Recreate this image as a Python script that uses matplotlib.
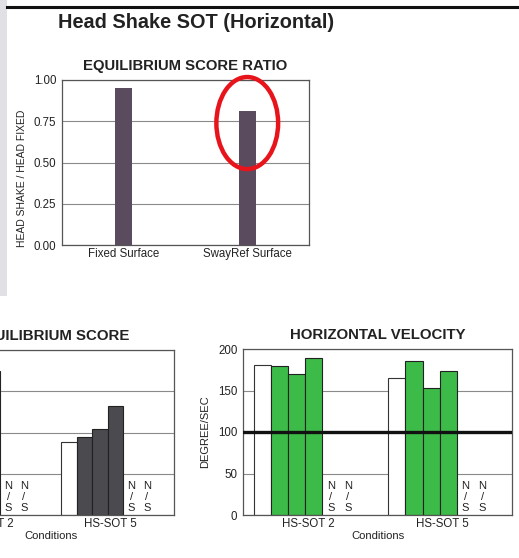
import numpy as np
import matplotlib.pyplot as plt
from matplotlib.patches import Ellipse, Rectangle
from matplotlib.transforms import blended_transform_factory

plt.rcParams['font.family'] = ['Liberation Sans', 'DejaVu Sans']

# --- data ---
ratio_labels = ['Fixed Surface', 'SwayRef Surface']
ratio_values = [0.95, 0.81]
ratio_ticks = [0.0, 0.25, 0.5, 0.75, 1.0]

conditions = ['HS-SOT 2', 'HS-SOT 5']
# white bar = head still baseline, then 3 head shake trials, last 2 slots N/S
eq_baseline = [84, 44]
eq_trials = [[82, 85, 87], [47, 52, 66]]
eq_ticks = [0, 25, 50, 75, 100]

vel_baseline = [181, 165]
vel_trials = [[180, 170, 189], [185, 153, 173]]
vel_ticks = [0, 50, 100, 150, 200]
vel_threshold = 100

W, H = 519, 558
GROUP_X = [0.462, 1.462]
SLOT = 0.127


def px_box(x0, y0, x1, y1):
    """pixel box (top-left origin) -> figure fraction rect"""
    return [x0 / W, 1 - y1 / H, (x1 - x0) / W, (y1 - y0) / H]


def style_axes(ax):
    for s in ax.spines.values():
        s.set_color('#555555')
        s.set_linewidth(0.9)
    ax.tick_params(length=0, pad=4, labelsize=8.3, colors='#222222')
    ax.yaxis.grid(True, color='#8a8a8a', linewidth=0.8)
    ax.set_axisbelow(True)


def group_chart(ax, baseline, trials, color, ticks, ylabel=None):
    style_axes(ax)
    trans = blended_transform_factory(ax.transData, ax.transAxes)
    for g, center in enumerate(GROUP_X):
        offs = (np.arange(6) - 2.5) * SLOT
        ax.bar(center + offs[0], baseline[g], SLOT, color='white',
               edgecolor='#333333', linewidth=0.8, zorder=2)
        ax.bar(center + offs[1:4], trials[g], SLOT, color=color,
               edgecolor='#222222', linewidth=0.8, zorder=2)
        for o in offs[4:]:
            ax.text(center + o, 0.012, 'N\n/\nS', transform=trans,
                    ha='center', va='bottom', fontsize=8, linespacing=1.15,
                    color='#222222', zorder=4)
    ax.set_xlim(0, 2)
    ax.set_ylim(ticks[0], ticks[-1])
    ax.set_yticks(ticks)
    ax.set_xticks([x + 0.022 for x in GROUP_X])
    ax.set_xticklabels(conditions)
    ax.tick_params(axis='x', pad=2)
    ax.set_xlabel('Conditions', fontsize=8.1, labelpad=1, color='#222222')
    if ylabel:
        ax.set_ylabel(ylabel, fontsize=8, labelpad=6, color='#222222')


fig = plt.figure(figsize=(W / 100, H / 100), dpi=100)
fig.patch.set_facecolor('white')

# left gray strip and top rule of the scanned page
fig.add_artist(Rectangle((0, 1 - 296 / H), 7 / W, 296 / H, transform=fig.transFigure,
                         facecolor='#e1e1e5', edgecolor='none'))
fig.add_artist(plt.Line2D([7 / W, 1], [1 - 6.5 / H] * 2, transform=fig.transFigure,
                          color='#111111', linewidth=2.2))

fig.text(58 / W, 1 - 22 / H, 'Head Shake SOT (Horizontal)', fontsize=14.3,
         fontweight='bold', ha='left', va='center', color='#222222')

# --- equilibrium score ratio ---
ax1 = fig.add_axes(px_box(62, 80, 309, 245))
style_axes(ax1)
ax1.bar(range(len(ratio_values)), ratio_values, 0.14, color='#5b4b5f', zorder=2)
ax1.set_xlim(-0.5, 1.5)
ax1.set_ylim(0, 1)
ax1.set_yticks(ratio_ticks)
ax1.set_yticklabels([f'{t:.2f}' for t in ratio_ticks])
ax1.set_xticks(range(len(ratio_labels)))
ax1.set_xticklabels(ratio_labels)
ax1.tick_params(axis='x', pad=2)
ax1.set_title('EQUILIBRIUM SCORE RATIO', fontsize=10.7, fontweight='bold',
              pad=7, color='#222222')
fig.text(22 / W, 1 - 178 / H, 'HEAD SHAKE / HEAD FIXED', rotation=90,
         fontsize=7.5, ha='center', va='center', color='#222222')

# red ring drawn around the SwayRef bar
ax1.add_patch(Ellipse((1.0, 0.739), 0.50, 0.558, fill=False, edgecolor='#e8141c',
                      linewidth=3.2, clip_on=False, zorder=5))

# --- equilibrium score (cut off at the left edge) ---
ax2 = fig.add_axes(px_box(-72, 350, 174, 515))
group_chart(ax2, eq_baseline, eq_trials, '#4b4a4f', eq_ticks)
ax2.set_title('EQUILIBRIUM SCORE', fontsize=10.8, fontweight='bold', pad=7,
              color='#222222')

# --- horizontal velocity ---
ax3 = fig.add_axes(px_box(243, 349, 512, 515))
group_chart(ax3, vel_baseline, vel_trials, '#3dbb48', vel_ticks, 'DEGREE/SEC')
ax3.axhline(vel_threshold, color='#111111', linewidth=2.4, zorder=3)
ax3.set_title('HORIZONTAL VELOCITY', fontsize=10.8, fontweight='bold', pad=7,
              color='#222222')

fig.savefig('out.png', dpi=100)
